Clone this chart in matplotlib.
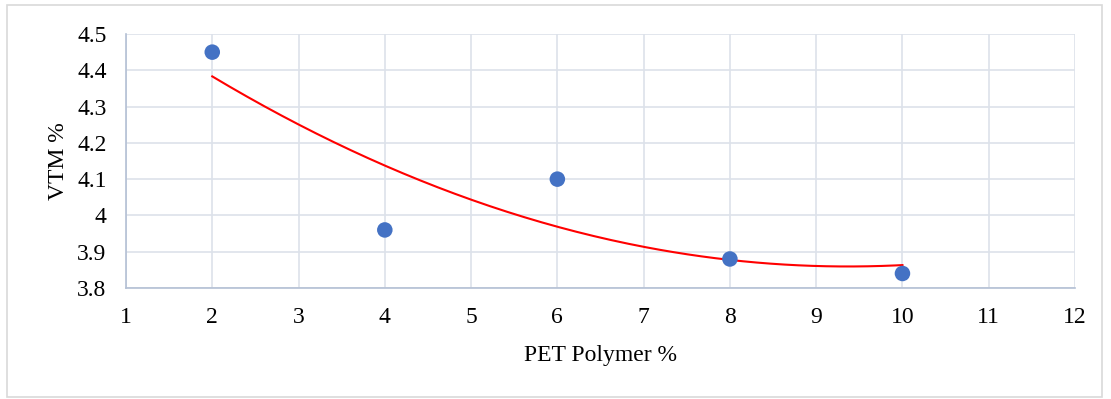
import numpy as np
import matplotlib
matplotlib.use('Agg')
import matplotlib.pyplot as plt
from matplotlib.patches import Rectangle

# Data
pet_polymer = [2, 4, 6, 8, 10]
vtm = [4.45, 3.96, 4.10, 3.88, 3.84]

plt.rcParams['font.family'] = ['Liberation Serif', 'DejaVu Serif']

fig = plt.figure(figsize=(11.11, 3.99), dpi=100)
ax = fig.add_axes([0.1134, 0.2782, 0.8542, 0.6366])

# Outer chart border
fig.patches.append(Rectangle((0.006, 0.005), 0.986, 0.982, transform=fig.transFigure,
                             fill=False, edgecolor='#D9D9D9', linewidth=1.2))

# Polynomial (order 2) trendline
coef = np.polyfit(pet_polymer, vtm, 2)
xs = np.linspace(min(pet_polymer), max(pet_polymer), 200)
ax.plot(xs, np.polyval(coef, xs), color='#FF0000', linewidth=1.5, zorder=3)

ax.scatter(pet_polymer, vtm, s=125, color='#4472C4', zorder=4, edgecolors='none')

ax.set_xlim(1, 12)
ax.set_ylim(3.8, 4.5)
ax.set_xticks(range(1, 13))
ax.set_yticks([3.8, 3.9, 4.0, 4.1, 4.2, 4.3, 4.4, 4.5])
ax.set_yticklabels(['3.8', '3.9', '4', '4.1', '4.2', '4.3', '4.4', '4.5'])
ax.grid(True, color='#DDE2EA', linewidth=1.2)
ax.set_axisbelow(True)
for side in ['top', 'right']:
    ax.spines[side].set_visible(False)
for side in ['left', 'bottom']:
    ax.spines[side].set_color('#B4C0D4')
    ax.spines[side].set_linewidth(1.2)
ax.tick_params(axis='y', length=0, labelsize=17, pad=14)
ax.tick_params(axis='x', length=0, labelsize=17, pad=14)
ax.set_xlabel('PET Polymer %', fontsize=17, labelpad=12)
ax.set_ylabel('VTM %', fontsize=17, labelpad=6)

fig.savefig('out.png', dpi=100)
